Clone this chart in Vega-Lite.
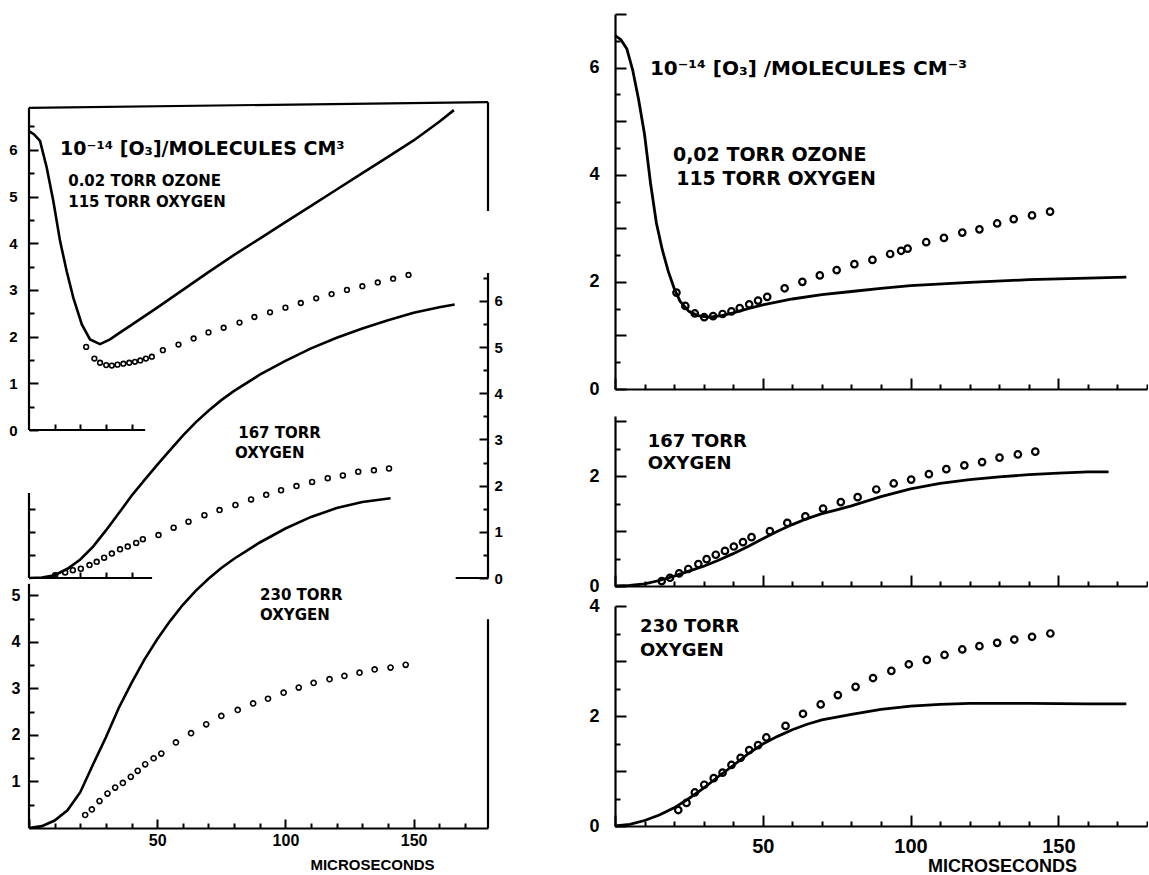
{
"$schema":"https://vega.github.io/schema/vega-lite/v6.json",
"background":"white",
"padding":{"left":8,"top":13,"right":0,"bottom":0},
"config":{"view":{"stroke":null},"font":"Liberation Sans","axis":{"grid":false,"domainColor":"#000","domainWidth":2.2,"tickColor":"#000","tickWidth":2,"labelColor":"#000","labelFont":"Liberation Sans","labelFontWeight":"bold","titleFont":"Liberation Sans","titleFontWeight":"bold","titleColor":"#000"}},
"datasets":{
"L115":[
{"s":"c","t":0,"v":6.4},{"s":"c","t":2,"v":6.33},{"s":"c","t":4.3,"v":6.19},{"s":"c","t":6.9,"v":5.62},{"s":"c","t":9.5,"v":4.9},{"s":"c","t":12.1,"v":4.05},{"s":"c","t":14.7,"v":3.4},{"s":"c","t":17.3,"v":2.83},{"s":"c","t":20.6,"v":2.26},{"s":"c","t":23.8,"v":1.94},{"s":"c","t":27.7,"v":1.84},{"s":"c","t":31.6,"v":1.94},{"s":"c","t":35,"v":2.07},{"s":"c","t":40,"v":2.25},{"s":"c","t":50,"v":2.62},{"s":"c","t":60,"v":3.0},{"s":"c","t":70,"v":3.38},{"s":"c","t":80,"v":3.75},{"s":"c","t":90,"v":4.1},{"s":"c","t":100,"v":4.45},{"s":"c","t":110,"v":4.8},{"s":"c","t":120,"v":5.15},{"s":"c","t":130,"v":5.5},{"s":"c","t":140,"v":5.85},{"s":"c","t":150,"v":6.2},{"s":"c","t":160,"v":6.6},{"s":"c","t":165.7,"v":6.85},
{"s":"o","t":22.3,"v":1.78},{"s":"o","t":25.5,"v":1.53},{"s":"o","t":27.7,"v":1.44},{"s":"o","t":30.1,"v":1.39},{"s":"o","t":32.3,"v":1.38},{"s":"o","t":34.5,"v":1.4},{"s":"o","t":36.8,"v":1.42},{"s":"o","t":39.1,"v":1.44},{"s":"o","t":41.3,"v":1.46},{"s":"o","t":43.4,"v":1.49},{"s":"o","t":45.6,"v":1.53},{"s":"o","t":47.9,"v":1.57},{"s":"o","t":52.2,"v":1.71},{"s":"o","t":58.3,"v":1.83},{"s":"o","t":64.2,"v":1.96},{"s":"o","t":70,"v":2.09},{"s":"o","t":75.9,"v":2.19},{"s":"o","t":82.1,"v":2.3},{"s":"o","t":87.9,"v":2.42},{"s":"o","t":94,"v":2.52},{"s":"o","t":100,"v":2.62},{"s":"o","t":106,"v":2.72},{"s":"o","t":112,"v":2.82},{"s":"o","t":118,"v":2.91},{"s":"o","t":124,"v":3.0},{"s":"o","t":130,"v":3.08},{"s":"o","t":136,"v":3.16},{"s":"o","t":142,"v":3.24},{"s":"o","t":148,"v":3.32}],
"L167":[
{"s":"c","t":0,"v":0},{"s":"c","t":5,"v":0.01},{"s":"c","t":10,"v":0.06},{"s":"c","t":15,"v":0.2},{"s":"c","t":20,"v":0.4},{"s":"c","t":25,"v":0.68},{"s":"c","t":30,"v":1.03},{"s":"c","t":35,"v":1.4},{"s":"c","t":40,"v":1.78},{"s":"c","t":45,"v":2.12},{"s":"c","t":50,"v":2.45},{"s":"c","t":55,"v":2.77},{"s":"c","t":60,"v":3.08},{"s":"c","t":65,"v":3.37},{"s":"c","t":70,"v":3.62},{"s":"c","t":75,"v":3.85},{"s":"c","t":80,"v":4.05},{"s":"c","t":90,"v":4.4},{"s":"c","t":100,"v":4.7},{"s":"c","t":110,"v":4.97},{"s":"c","t":120,"v":5.2},{"s":"c","t":130,"v":5.4},{"s":"c","t":140,"v":5.58},{"s":"c","t":150,"v":5.74},{"s":"c","t":160,"v":5.86},{"s":"c","t":166,"v":5.92},
{"s":"o","t":10.2,"v":0.06},{"s":"o","t":14.1,"v":0.12},{"s":"o","t":17.1,"v":0.17},{"s":"o","t":20.2,"v":0.2},{"s":"o","t":23.6,"v":0.28},{"s":"o","t":26.4,"v":0.35},{"s":"o","t":29.3,"v":0.44},{"s":"o","t":32.3,"v":0.53},{"s":"o","t":35.5,"v":0.62},{"s":"o","t":38.5,"v":0.68},{"s":"o","t":41.8,"v":0.76},{"s":"o","t":44.4,"v":0.84},{"s":"o","t":50.5,"v":0.93},{"s":"o","t":56.4,"v":1.09},{"s":"o","t":62.2,"v":1.22},{"s":"o","t":68.4,"v":1.36},{"s":"o","t":74.3,"v":1.47},{"s":"o","t":80.5,"v":1.58},{"s":"o","t":86.6,"v":1.7},{"s":"o","t":92.5,"v":1.8},{"s":"o","t":98.3,"v":1.9},{"s":"o","t":104.3,"v":1.99},{"s":"o","t":110.4,"v":2.08},{"s":"o","t":116.5,"v":2.16},{"s":"o","t":122.4,"v":2.22},{"s":"o","t":128.4,"v":2.3},{"s":"o","t":134.5,"v":2.33},{"s":"o","t":140.4,"v":2.37}],
"L230":[
{"s":"c","t":0,"v":0},{"s":"c","t":5,"v":0.04},{"s":"c","t":10,"v":0.16},{"s":"c","t":15,"v":0.38},{"s":"c","t":20,"v":0.77},{"s":"c","t":25,"v":1.37},{"s":"c","t":30,"v":1.95},{"s":"c","t":35,"v":2.58},{"s":"c","t":40,"v":3.12},{"s":"c","t":45,"v":3.62},{"s":"c","t":50,"v":4.06},{"s":"c","t":55,"v":4.45},{"s":"c","t":60,"v":4.8},{"s":"c","t":65,"v":5.1},{"s":"c","t":70,"v":5.36},{"s":"c","t":75,"v":5.59},{"s":"c","t":80,"v":5.79},{"s":"c","t":90,"v":6.14},{"s":"c","t":100,"v":6.44},{"s":"c","t":110,"v":6.69},{"s":"c","t":120,"v":6.88},{"s":"c","t":130,"v":7.01},{"s":"c","t":141,"v":7.09},
{"s":"o","t":21.9,"v":0.28},{"s":"o","t":24.5,"v":0.4},{"s":"o","t":27.5,"v":0.58},{"s":"o","t":30.6,"v":0.74},{"s":"o","t":33.6,"v":0.87},{"s":"o","t":36.6,"v":0.97},{"s":"o","t":39.7,"v":1.1},{"s":"o","t":42.4,"v":1.23},{"s":"o","t":45.3,"v":1.37},{"s":"o","t":48.6,"v":1.5},{"s":"o","t":51.6,"v":1.6},{"s":"o","t":57.3,"v":1.84},{"s":"o","t":63.2,"v":2.04},{"s":"o","t":69.1,"v":2.23},{"s":"o","t":75,"v":2.41},{"s":"o","t":81.4,"v":2.54},{"s":"o","t":87.4,"v":2.68},{"s":"o","t":93.2,"v":2.78},{"s":"o","t":99.3,"v":2.91},{"s":"o","t":105.2,"v":3.02},{"s":"o","t":111,"v":3.12},{"s":"o","t":117.2,"v":3.2},{"s":"o","t":123,"v":3.27},{"s":"o","t":128.9,"v":3.34},{"s":"o","t":134.8,"v":3.41},{"s":"o","t":141,"v":3.45},{"s":"o","t":146.9,"v":3.51}],
"R115":[
{"s":"c","t":0,"v":6.6},{"s":"c","t":2,"v":6.52},{"s":"c","t":4,"v":6.35},{"s":"c","t":6,"v":5.95},{"s":"c","t":8,"v":5.4},{"s":"c","t":10,"v":4.75},{"s":"c","t":12,"v":3.85},{"s":"c","t":14,"v":3.1},{"s":"c","t":16,"v":2.6},{"s":"c","t":18,"v":2.2},{"s":"c","t":20,"v":1.88},{"s":"c","t":22,"v":1.64},{"s":"c","t":25,"v":1.45},{"s":"c","t":28,"v":1.37},{"s":"c","t":32,"v":1.34},{"s":"c","t":36,"v":1.37},{"s":"c","t":40,"v":1.42},{"s":"c","t":45,"v":1.5},{"s":"c","t":50,"v":1.57},{"s":"c","t":60,"v":1.68},{"s":"c","t":70,"v":1.76},{"s":"c","t":80,"v":1.82},{"s":"c","t":90,"v":1.88},{"s":"c","t":100,"v":1.93},{"s":"c","t":120,"v":1.99},{"s":"c","t":140,"v":2.04},{"s":"c","t":160,"v":2.07},{"s":"c","t":173,"v":2.09},
{"s":"o","t":20.8,"v":1.8},{"s":"o","t":23.8,"v":1.55},{"s":"o","t":27,"v":1.41},{"s":"o","t":30.2,"v":1.34},{"s":"o","t":33.2,"v":1.36},{"s":"o","t":36.4,"v":1.4},{"s":"o","t":39.4,"v":1.45},{"s":"o","t":42.2,"v":1.51},{"s":"o","t":45.4,"v":1.58},{"s":"o","t":48.4,"v":1.65},{"s":"o","t":51.5,"v":1.72},{"s":"o","t":57.4,"v":1.88},{"s":"o","t":63.4,"v":2.0},{"s":"o","t":69.3,"v":2.12},{"s":"o","t":75,"v":2.22},{"s":"o","t":81,"v":2.33},{"s":"o","t":87.1,"v":2.41},{"s":"o","t":93.1,"v":2.52},{"s":"o","t":96.8,"v":2.58},{"s":"o","t":99,"v":2.62},{"s":"o","t":105.3,"v":2.74},{"s":"o","t":111.3,"v":2.82},{"s":"o","t":117.5,"v":2.92},{"s":"o","t":123.3,"v":2.98},{"s":"o","t":129.3,"v":3.09},{"s":"o","t":134.9,"v":3.17},{"s":"o","t":141.1,"v":3.24},{"s":"o","t":147.2,"v":3.31}],
"R167":[
{"s":"c","t":0,"v":0},{"s":"c","t":5,"v":0.01},{"s":"c","t":10,"v":0.04},{"s":"c","t":15,"v":0.1},{"s":"c","t":20,"v":0.18},{"s":"c","t":25,"v":0.27},{"s":"c","t":30,"v":0.36},{"s":"c","t":35,"v":0.47},{"s":"c","t":40,"v":0.59},{"s":"c","t":45,"v":0.72},{"s":"c","t":50,"v":0.86},{"s":"c","t":55,"v":1.0},{"s":"c","t":60,"v":1.12},{"s":"c","t":65,"v":1.23},{"s":"c","t":70,"v":1.32},{"s":"c","t":75,"v":1.39},{"s":"c","t":80,"v":1.46},{"s":"c","t":90,"v":1.63},{"s":"c","t":100,"v":1.77},{"s":"c","t":110,"v":1.87},{"s":"c","t":120,"v":1.94},{"s":"c","t":130,"v":1.99},{"s":"c","t":140,"v":2.03},{"s":"c","t":150,"v":2.06},{"s":"c","t":160,"v":2.08},{"s":"c","t":167,"v":2.08},
{"s":"o","t":15.8,"v":0.09},{"s":"o","t":18.6,"v":0.15},{"s":"o","t":21.7,"v":0.23},{"s":"o","t":24.8,"v":0.31},{"s":"o","t":28.2,"v":0.4},{"s":"o","t":31,"v":0.49},{"s":"o","t":34.1,"v":0.57},{"s":"o","t":37.2,"v":0.64},{"s":"o","t":40.2,"v":0.72},{"s":"o","t":43.3,"v":0.8},{"s":"o","t":46.2,"v":0.89},{"s":"o","t":52.4,"v":1.0},{"s":"o","t":58.3,"v":1.15},{"s":"o","t":64.4,"v":1.27},{"s":"o","t":70.4,"v":1.41},{"s":"o","t":76.4,"v":1.53},{"s":"o","t":82.1,"v":1.62},{"s":"o","t":88.4,"v":1.76},{"s":"o","t":94.3,"v":1.87},{"s":"o","t":100.2,"v":1.94},{"s":"o","t":106.2,"v":2.04},{"s":"o","t":112.1,"v":2.13},{"s":"o","t":118.2,"v":2.2},{"s":"o","t":124.2,"v":2.26},{"s":"o","t":130.1,"v":2.34},{"s":"o","t":136.3,"v":2.4},{"s":"o","t":142.2,"v":2.45}],
"R230":[
{"s":"c","t":0,"v":0},{"s":"c","t":5,"v":0.03},{"s":"c","t":10,"v":0.1},{"s":"c","t":15,"v":0.2},{"s":"c","t":20,"v":0.33},{"s":"c","t":25,"v":0.5},{"s":"c","t":30,"v":0.69},{"s":"c","t":35,"v":0.9},{"s":"c","t":40,"v":1.1},{"s":"c","t":45,"v":1.31},{"s":"c","t":50,"v":1.49},{"s":"c","t":55,"v":1.63},{"s":"c","t":60,"v":1.75},{"s":"c","t":65,"v":1.85},{"s":"c","t":70,"v":1.93},{"s":"c","t":75,"v":1.98},{"s":"c","t":80,"v":2.03},{"s":"c","t":90,"v":2.12},{"s":"c","t":100,"v":2.18},{"s":"c","t":110,"v":2.21},{"s":"c","t":120,"v":2.23},{"s":"c","t":140,"v":2.23},{"s":"c","t":160,"v":2.22},{"s":"c","t":173,"v":2.22},
{"s":"o","t":21.4,"v":0.29},{"s":"o","t":24.2,"v":0.42},{"s":"o","t":27,"v":0.61},{"s":"o","t":30.2,"v":0.75},{"s":"o","t":33.4,"v":0.87},{"s":"o","t":36.4,"v":0.97},{"s":"o","t":39.4,"v":1.11},{"s":"o","t":42.5,"v":1.24},{"s":"o","t":45.4,"v":1.38},{"s":"o","t":48.4,"v":1.47},{"s":"o","t":51.2,"v":1.61},{"s":"o","t":57.7,"v":1.82},{"s":"o","t":63.6,"v":2.04},{"s":"o","t":69.6,"v":2.21},{"s":"o","t":75.4,"v":2.38},{"s":"o","t":81.4,"v":2.53},{"s":"o","t":87.3,"v":2.69},{"s":"o","t":93.5,"v":2.82},{"s":"o","t":99.4,"v":2.94},{"s":"o","t":105.5,"v":3.02},{"s":"o","t":111.5,"v":3.11},{"s":"o","t":117.5,"v":3.21},{"s":"o","t":123.3,"v":3.27},{"s":"o","t":129.3,"v":3.33},{"s":"o","t":135.1,"v":3.39},{"s":"o","t":141.1,"v":3.44},{"s":"o","t":147.3,"v":3.5}]
},
"bounds":"flush",
"spacing":127,
"hconcat":[
{"width":459,"height":814,
 "resolve":{"scale":{"x":"independent","y":"independent"},"axis":{"x":"independent","y":"independent"}},
 "layer":[
  {"data":{"name":"L115"},"resolve":{"axis":{"x":"independent","y":"independent"}},
   "layer":[
    {"transform":[{"filter":"datum.s==='c'"}],"mark":{"type":"line","color":"#000","strokeWidth":2.6},
     "encoding":{"x":{"field":"t","type":"quantitative","scale":{"domain":[0,179],"nice":false,"zero":false},"axis":{"orient":"bottom","offset":-398,"values":[10,20,30,40],"tickSize":-6,"labels":false,"domain":false,"title":null}},
                 "y":{"field":"v","type":"quantitative","scale":{"domain":[-8.522,8.908],"nice":false,"zero":false},"axis":{"orient":"left","values":[0,1,2,3,4,5,6],"tickSize":-9,"labelPadding":21,"labelFontSize":15,"domain":false,"title":null}}}},
    {"transform":[{"filter":"datum.s==='o'"}],"mark":{"type":"point","shape":"circle","filled":false,"color":"#000","strokeWidth":1.6,"size":22,"opacity":1},
     "encoding":{"x":{"field":"t","type":"quantitative","scale":{"domain":[0,179],"nice":false,"zero":false},"axis":null},
                 "y":{"field":"v","type":"quantitative","scale":{"domain":[-8.522,8.908],"nice":false,"zero":false},"axis":{"orient":"left","values":[0.5,1.5,2.5,3.5,4.5,5.5,6.5],"tickSize":-5,"labels":false,"domain":false,"title":null}}}},
    {"data":{"values":[{}]},"mark":{"type":"rule","color":"#000","strokeWidth":2.2},
     "encoding":{"x":{"datum":0,"type":"quantitative","scale":{"domain":[0,179],"nice":false,"zero":false},"axis":null},"y":{"datum":0,"type":"quantitative","scale":{"domain":[-8.522,8.908],"nice":false,"zero":false},"axis":null},"y2":{"datum":6.9}}},
    {"data":{"values":[{}]},"mark":{"type":"rule","color":"#000","strokeWidth":2.2},
     "encoding":{"x":{"datum":0,"type":"quantitative","scale":{"domain":[0,179],"nice":false,"zero":false},"axis":null},"x2":{"datum":179},"y":{"datum":6.9,"type":"quantitative","scale":{"domain":[-8.522,8.908],"nice":false,"zero":false},"axis":null},"y2":{"datum":7.02}}},
    {"data":{"values":[{}]},"mark":{"type":"rule","color":"#000","strokeWidth":2.2},
     "encoding":{"x":{"datum":179,"type":"quantitative","scale":{"domain":[0,179],"nice":false,"zero":false},"axis":null},"y":{"datum":4.69,"type":"quantitative","scale":{"domain":[-8.522,8.908],"nice":false,"zero":false},"axis":null},"y2":{"datum":7.02}}},
    {"data":{"values":[{}]},"mark":{"type":"rule","color":"#000","strokeWidth":2.2},
     "encoding":{"x":{"datum":0,"type":"quantitative","scale":{"domain":[0,179],"nice":false,"zero":false},"axis":null},"x2":{"datum":45.3},"y":{"datum":0,"type":"quantitative","scale":{"domain":[-8.522,8.908],"nice":false,"zero":false},"axis":null}}},
    {"data":{"values":[{}]},"mark":{"type":"text","text":"10⁻¹⁴ [O₃]/MOLECULES CM³","align":"left","baseline":"middle","font":"DejaVu Sans","fontWeight":"bold","fontSize":19,"color":"#000"},
     "encoding":{"x":{"datum":12.1,"type":"quantitative","scale":{"domain":[0,179],"nice":false,"zero":false},"axis":null},"y":{"datum":6.02,"type":"quantitative","scale":{"domain":[-8.522,8.908],"nice":false,"zero":false},"axis":null}}},
    {"data":{"values":[{}]},"mark":{"type":"text","text":"0.02 TORR  OZONE","align":"left","baseline":"middle","font":"DejaVu Sans","fontWeight":"bold","fontSize":15,"color":"#000"},
     "encoding":{"x":{"datum":15.3,"type":"quantitative","scale":{"domain":[0,179],"nice":false,"zero":false},"axis":null},"y":{"datum":5.34,"type":"quantitative","scale":{"domain":[-8.522,8.908],"nice":false,"zero":false},"axis":null}}},
    {"data":{"values":[{}]},"mark":{"type":"text","text":"115 TORR  OXYGEN","align":"left","baseline":"middle","font":"DejaVu Sans","fontWeight":"bold","fontSize":15,"color":"#000"},
     "encoding":{"x":{"datum":15.3,"type":"quantitative","scale":{"domain":[0,179],"nice":false,"zero":false},"axis":null},"y":{"datum":4.88,"type":"quantitative","scale":{"domain":[-8.522,8.908],"nice":false,"zero":false},"axis":null}}}
   ]},
  {"data":{"name":"L167"},"resolve":{"axis":{"x":"independent","y":"independent"}},
   "layer":[
    {"transform":[{"filter":"datum.s==='c'"}],"mark":{"type":"line","color":"#000","strokeWidth":2.6},
     "encoding":{"x":{"field":"t","type":"quantitative","scale":{"domain":[0,179],"nice":false,"zero":false},"axis":{"orient":"bottom","offset":-250,"values":[10,20,30,40],"tickSize":-6,"labels":false,"domain":false,"title":null}},
                 "y":{"field":"v","type":"quantitative","scale":{"domain":[-5.411,12.208],"nice":false,"zero":false},"axis":{"orient":"right","values":[0,1,2,3,4,5,6],"tickSize":-9,"labelPadding":15,"labelFontSize":15,"domain":false,"title":null}}}},
    {"transform":[{"filter":"datum.s==='o'"}],"mark":{"type":"point","shape":"circle","filled":false,"color":"#000","strokeWidth":1.6,"size":24,"opacity":1},
     "encoding":{"x":{"field":"t","type":"quantitative","scale":{"domain":[0,179],"nice":false,"zero":false},"axis":null},
                 "y":{"field":"v","type":"quantitative","scale":{"domain":[-5.411,12.208],"nice":false,"zero":false},"axis":{"orient":"right","values":[0.5,1.5,2.5,3.5,4.5,5.5,6.5],"tickSize":-5,"labels":false,"domain":false,"title":null}}}},
    {"data":{"values":[{}]},"mark":{"type":"rule","color":"#000","strokeWidth":2.2},
     "encoding":{"x":{"datum":0,"type":"quantitative","scale":{"domain":[0,179],"nice":false,"zero":false},"axis":null},"y":{"datum":0,"type":"quantitative","scale":{"domain":[-5.411,12.208],"nice":false,"zero":false},"axis":{"orient":"left","values":[0.5,1,1.5],"tickSize":-6,"labels":false,"domain":false,"title":null}},"y2":{"datum":1.84}}},
    {"data":{"values":[{}]},"mark":{"type":"rule","color":"#000","strokeWidth":2.2},
     "encoding":{"x":{"datum":179,"type":"quantitative","scale":{"domain":[0,179],"nice":false,"zero":false},"axis":null},"y":{"datum":0,"type":"quantitative","scale":{"domain":[-5.411,12.208],"nice":false,"zero":false},"axis":null},"y2":{"datum":6.6}}},
    {"data":{"values":[{}]},"mark":{"type":"rule","color":"#000","strokeWidth":2.2},
     "encoding":{"x":{"datum":0,"type":"quantitative","scale":{"domain":[0,179],"nice":false,"zero":false},"axis":null},"x2":{"datum":48},"y":{"datum":0,"type":"quantitative","scale":{"domain":[-5.411,12.208],"nice":false,"zero":false},"axis":null}}},
    {"data":{"values":[{}]},"mark":{"type":"rule","color":"#000","strokeWidth":2.2},
     "encoding":{"x":{"datum":166.4,"type":"quantitative","scale":{"domain":[0,179],"nice":false,"zero":false},"axis":null},"x2":{"datum":179},"y":{"datum":0,"type":"quantitative","scale":{"domain":[-5.411,12.208],"nice":false,"zero":false},"axis":null}}},
    {"data":{"values":[{}]},"mark":{"type":"text","text":"167  TORR","align":"left","baseline":"middle","font":"DejaVu Sans","fontWeight":"bold","fontSize":15,"color":"#000"},
     "encoding":{"x":{"datum":81.6,"type":"quantitative","scale":{"domain":[0,179],"nice":false,"zero":false},"axis":null},"y":{"datum":3.13,"type":"quantitative","scale":{"domain":[-5.411,12.208],"nice":false,"zero":false},"axis":null}}},
    {"data":{"values":[{}]},"mark":{"type":"text","text":"OXYGEN","align":"left","baseline":"middle","font":"DejaVu Sans","fontWeight":"bold","fontSize":15,"color":"#000"},
     "encoding":{"x":{"datum":80.3,"type":"quantitative","scale":{"domain":[0,179],"nice":false,"zero":false},"axis":null},"y":{"datum":2.71,"type":"quantitative","scale":{"domain":[-5.411,12.208],"nice":false,"zero":false},"axis":null}}}
   ]},
  {"data":{"name":"L230"},"resolve":{"axis":{"x":"independent","y":"independent"}},
   "layer":[
    {"transform":[{"filter":"datum.s==='c'"}],"mark":{"type":"line","color":"#000","strokeWidth":2.6},
     "encoding":{"x":{"field":"t","type":"quantitative","scale":{"domain":[0,179],"nice":false,"zero":false},"axis":{"orient":"bottom","values":[0,50,100,150],"tickSize":-9,"labelExpr":"datum.value > 0 ? datum.label : ''","labelPadding":13,"labelFontSize":16,"domain":true,"title":"MICROSECONDS","titleFontSize":15,"titleX":343,"titleY":36,"titleAlign":"center","titleBaseline":"middle"}},
                 "y":{"field":"v","type":"quantitative","scale":{"domain":[0,17.505],"nice":false,"zero":false},"axis":{"orient":"left","values":[1,2,3,4,5],"tickSize":-9,"labelPadding":18,"labelFontSize":16,"domain":false,"title":null}}}},
    {"transform":[{"filter":"datum.s==='o'"}],"mark":{"type":"point","shape":"circle","filled":false,"color":"#000","strokeWidth":1.6,"size":26,"opacity":1},
     "encoding":{"x":{"field":"t","type":"quantitative","scale":{"domain":[0,179],"nice":false,"zero":false},"axis":{"orient":"bottom","values":[10,20,30,40,60,70,80,90,110,120,130,140,160,170],"tickSize":-5,"labels":false,"domain":false,"title":null}},
                 "y":{"field":"v","type":"quantitative","scale":{"domain":[0,17.505],"nice":false,"zero":false},"axis":{"orient":"left","values":[0.5,1.5,2.5,3.5,4.5],"tickSize":-5,"labels":false,"domain":false,"title":null}}}},
    {"data":{"values":[{}]},"mark":{"type":"rule","color":"#000","strokeWidth":2.2},
     "encoding":{"x":{"datum":0,"type":"quantitative","scale":{"domain":[0,179],"nice":false,"zero":false},"axis":null},"y":{"datum":0,"type":"quantitative","scale":{"domain":[0,17.505],"nice":false,"zero":false},"axis":null},"y2":{"datum":5.25}}},
    {"data":{"values":[{}]},"mark":{"type":"rule","color":"#000","strokeWidth":2.2},
     "encoding":{"x":{"datum":179,"type":"quantitative","scale":{"domain":[0,179],"nice":false,"zero":false},"axis":null},"y":{"datum":0,"type":"quantitative","scale":{"domain":[0,17.505],"nice":false,"zero":false},"axis":null},"y2":{"datum":4.49}}},
    {"data":{"values":[{}]},"mark":{"type":"text","text":"230 TORR","align":"left","baseline":"middle","font":"DejaVu Sans","fontWeight":"bold","fontSize":15,"color":"#000"},
     "encoding":{"x":{"datum":90.1,"type":"quantitative","scale":{"domain":[0,179],"nice":false,"zero":false},"axis":null},"y":{"datum":5.0,"type":"quantitative","scale":{"domain":[0,17.505],"nice":false,"zero":false},"axis":null}}},
    {"data":{"values":[{}]},"mark":{"type":"text","text":"OXYGEN","align":"left","baseline":"middle","font":"DejaVu Sans","fontWeight":"bold","fontSize":15,"color":"#000"},
     "encoding":{"x":{"datum":90.1,"type":"quantitative","scale":{"domain":[0,179],"nice":false,"zero":false},"axis":null},"y":{"datum":4.57,"type":"quantitative","scale":{"domain":[0,17.505],"nice":false,"zero":false},"axis":null}}}
   ]}
 ]},
{"bounds":"flush","spacing":27,
 "vconcat":[
  {"width":532,"height":375,"data":{"name":"R115"},"resolve":{"axis":{"x":"independent","y":"independent"}},
   "layer":[
    {"transform":[{"filter":"datum.s==='c'"}],"mark":{"type":"line","color":"#000","strokeWidth":2.8},
     "encoding":{"x":{"field":"t","type":"quantitative","scale":{"domain":[0,180],"nice":false,"zero":false},"axis":{"orient":"bottom","values":[0,50,100,150],"tickSize":-11,"labels":false,"domain":true,"title":null}},
                 "y":{"field":"v","type":"quantitative","scale":{"domain":[0,7],"nice":false,"zero":false},"axis":{"orient":"left","values":[0,1,2,3,4,5,6,7],"tickSize":-11,"labelExpr":"datum.value % 2 === 0 ? datum.label : ''","labelPadding":27,"labelFontSize":18,"domain":true,"title":null}}}},
    {"transform":[{"filter":"datum.s==='o'"}],"mark":{"type":"point","shape":"circle","filled":false,"color":"#000","strokeWidth":2.2,"size":42,"opacity":1},
     "encoding":{"x":{"field":"t","type":"quantitative","scale":{"domain":[0,180],"nice":false,"zero":false},"axis":{"orient":"bottom","values":[10,20,30,40,60,70,80,90,110,120,130,140,160,170,180],"tickSize":-5,"labels":false,"domain":false,"title":null}},
                 "y":{"field":"v","type":"quantitative","scale":{"domain":[0,7],"nice":false,"zero":false},"axis":{"orient":"left","values":[0.5,1.5,2.5,3.5,4.5,5.5,6.5],"tickSize":-5,"labels":false,"domain":false,"title":null}}}},
    {"data":{"values":[{}]},"mark":{"type":"text","text":"10⁻¹⁴ [O₃] /MOLECULES CM⁻³","align":"left","baseline":"middle","font":"DejaVu Sans","fontWeight":"bold","fontSize":20,"color":"#000"},
     "encoding":{"x":{"datum":11.8,"type":"quantitative","scale":{"domain":[0,180],"nice":false,"zero":false},"axis":null},"y":{"datum":5.98,"type":"quantitative","scale":{"domain":[0,7],"nice":false,"zero":false},"axis":null}}},
    {"data":{"values":[{}]},"mark":{"type":"text","text":"0,02 TORR OZONE","align":"left","baseline":"middle","font":"DejaVu Sans","fontWeight":"bold","fontSize":19,"color":"#000"},
     "encoding":{"x":{"datum":19.6,"type":"quantitative","scale":{"domain":[0,180],"nice":false,"zero":false},"axis":null},"y":{"datum":4.37,"type":"quantitative","scale":{"domain":[0,7],"nice":false,"zero":false},"axis":null}}},
    {"data":{"values":[{}]},"mark":{"type":"text","text":"115 TORR OXYGEN","align":"left","baseline":"middle","font":"DejaVu Sans","fontWeight":"bold","fontSize":19,"color":"#000"},
     "encoding":{"x":{"datum":20.7,"type":"quantitative","scale":{"domain":[0,180],"nice":false,"zero":false},"axis":null},"y":{"datum":3.92,"type":"quantitative","scale":{"domain":[0,7],"nice":false,"zero":false},"axis":null}}}
   ]},
  {"bounds":"flush","spacing":20,
   "vconcat":[
    {"width":532,"height":170,"data":{"name":"R167"},"resolve":{"axis":{"x":"independent","y":"independent"}},
     "layer":[
      {"transform":[{"filter":"datum.s==='c'"}],"mark":{"type":"line","color":"#000","strokeWidth":2.8},
       "encoding":{"x":{"field":"t","type":"quantitative","scale":{"domain":[0,180],"nice":false,"zero":false},"axis":{"orient":"bottom","values":[0,50,100,150],"tickSize":-11,"labels":false,"domain":true,"title":null}},
                   "y":{"field":"v","type":"quantitative","scale":{"domain":[0,3.1],"nice":false,"zero":false},"axis":{"orient":"left","values":[0,1,2,3],"tickSize":-11,"labelExpr":"datum.value % 2 === 0 ? datum.label : ''","labelPadding":27,"labelFontSize":18,"domain":true,"title":null}}}},
      {"transform":[{"filter":"datum.s==='o'"}],"mark":{"type":"point","shape":"circle","filled":false,"color":"#000","strokeWidth":2.2,"size":42,"opacity":1},
       "encoding":{"x":{"field":"t","type":"quantitative","scale":{"domain":[0,180],"nice":false,"zero":false},"axis":{"orient":"bottom","values":[10,20,30,40,60,70,80,90,110,120,130,140,160,170,180],"tickSize":-5,"labels":false,"domain":false,"title":null}},
                   "y":{"field":"v","type":"quantitative","scale":{"domain":[0,3.1],"nice":false,"zero":false},"axis":{"orient":"left","values":[0.5,1.5,2.5],"tickSize":-5,"labels":false,"domain":false,"title":null}}}},
      {"data":{"values":[{}]},"mark":{"type":"text","text":"167 TORR","align":"left","baseline":"middle","font":"DejaVu Sans","fontWeight":"bold","fontSize":18,"color":"#000"},
       "encoding":{"x":{"datum":11.1,"type":"quantitative","scale":{"domain":[0,180],"nice":false,"zero":false},"axis":null},"y":{"datum":2.62,"type":"quantitative","scale":{"domain":[0,3.1],"nice":false,"zero":false},"axis":null}}},
      {"data":{"values":[{}]},"mark":{"type":"text","text":"OXYGEN","align":"left","baseline":"middle","font":"DejaVu Sans","fontWeight":"bold","fontSize":18,"color":"#000"},
       "encoding":{"x":{"datum":11.1,"type":"quantitative","scale":{"domain":[0,180],"nice":false,"zero":false},"axis":null},"y":{"datum":2.22,"type":"quantitative","scale":{"domain":[0,3.1],"nice":false,"zero":false},"axis":null}}}
     ]},
    {"width":532,"height":220,"data":{"name":"R230"},"resolve":{"axis":{"x":"independent","y":"independent"}},
     "layer":[
      {"transform":[{"filter":"datum.s==='c'"}],"mark":{"type":"line","color":"#000","strokeWidth":2.8},
       "encoding":{"x":{"field":"t","type":"quantitative","scale":{"domain":[0,180],"nice":false,"zero":false},"axis":{"orient":"bottom","values":[0,50,100,150],"tickSize":-11,"labelExpr":"datum.value > 0 ? datum.label : ''","labelPadding":21,"labelFontSize":20,"domain":true,"title":"MICROSECONDS","titleFontSize":18,"titleX":387,"titleY":40,"titleAlign":"center","titleBaseline":"middle"}},
                   "y":{"field":"v","type":"quantitative","scale":{"domain":[0,4],"nice":false,"zero":false},"axis":{"orient":"left","values":[0,1,2,3,4],"tickSize":-11,"labelExpr":"datum.value % 2 === 0 ? datum.label : ''","labelPadding":27,"labelFontSize":18,"domain":true,"title":null}}}},
      {"transform":[{"filter":"datum.s==='o'"}],"mark":{"type":"point","shape":"circle","filled":false,"color":"#000","strokeWidth":2.2,"size":42,"opacity":1},
       "encoding":{"x":{"field":"t","type":"quantitative","scale":{"domain":[0,180],"nice":false,"zero":false},"axis":{"orient":"bottom","values":[10,20,30,40,60,70,80,90,110,120,130,140,160,170,180],"tickSize":-5,"labels":false,"domain":false,"title":null}},
                   "y":{"field":"v","type":"quantitative","scale":{"domain":[0,4],"nice":false,"zero":false},"axis":{"orient":"left","values":[0.5,1.5,2.5,3.5],"tickSize":-5,"labels":false,"domain":false,"title":null}}}},
      {"data":{"values":[{}]},"mark":{"type":"text","text":"230 TORR","align":"left","baseline":"middle","font":"DejaVu Sans","fontWeight":"bold","fontSize":18,"color":"#000"},
       "encoding":{"x":{"datum":8.5,"type":"quantitative","scale":{"domain":[0,180],"nice":false,"zero":false},"axis":null},"y":{"datum":3.61,"type":"quantitative","scale":{"domain":[0,4],"nice":false,"zero":false},"axis":null}}},
      {"data":{"values":[{}]},"mark":{"type":"text","text":"OXYGEN","align":"left","baseline":"middle","font":"DejaVu Sans","fontWeight":"bold","fontSize":18,"color":"#000"},
       "encoding":{"x":{"datum":8.5,"type":"quantitative","scale":{"domain":[0,180],"nice":false,"zero":false},"axis":null},"y":{"datum":3.19,"type":"quantitative","scale":{"domain":[0,4],"nice":false,"zero":false},"axis":null}}}
     ]}
   ]}
 ]}
]
}
